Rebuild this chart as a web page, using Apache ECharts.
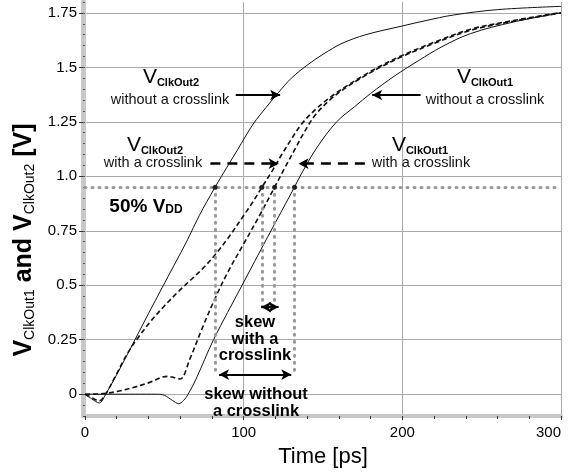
<!DOCTYPE html>
<html>
<head>
<meta charset="utf-8">
<script src="https://cdn.jsdelivr.net/npm/echarts@6/dist/echarts.min.js"></script>
<style>
  html, body { margin: 0; padding: 0; background: #fff; }
  #chart { width: 568px; height: 473px; }
</style>
</head>
<body>
<div id="chart"></div>
<script>
// time in ps, voltage in V
const out2NoLinkT = [0, 4, 9, 13, 20, 31.5, 40, 48.7, 56, 64.7, 72, 82, 86, 96, 106, 114, 122, 130, 140, 150, 162, 177, 200, 215, 232, 260, 300];
const out2NoLinkV = [0, -0.02, -0.04, 0, 0.09, 0.25, 0.37, 0.49, 0.59, 0.71, 0.82, 0.95, 1.0, 1.12, 1.24, 1.315, 1.385, 1.45, 1.51, 1.56, 1.61, 1.65, 1.69, 1.715, 1.74, 1.765, 1.78];

const out2LinkT = [0, 4, 9, 13, 20, 27, 34, 42, 50, 58, 66, 74, 82, 90, 100, 106, 111.5, 118, 124, 130, 136.5, 145, 155, 165, 175, 186, 200, 220, 243, 270, 300];
const out2LinkV = [0, -0.015, -0.03, 0, 0.095, 0.19, 0.265, 0.34, 0.405, 0.465, 0.52, 0.575, 0.64, 0.715, 0.82, 0.885, 0.95, 1.025, 1.1, 1.17, 1.24, 1.305, 1.365, 1.415, 1.46, 1.505, 1.555, 1.615, 1.675, 1.715, 1.752];

const out1LinkT = [0, 10, 20, 30, 40, 52, 56, 60, 66, 74, 82, 90, 100, 110, 119.5, 126, 132, 138, 145, 155, 165, 175, 186, 200, 220, 243, 270, 300];
const out1LinkV = [0, 0.002, 0.012, 0.03, 0.052, 0.082, 0.077, 0.07, 0.16, 0.305, 0.44, 0.56, 0.69, 0.82, 0.95, 1.04, 1.12, 1.2, 1.28, 1.355, 1.41, 1.455, 1.5, 1.55, 1.61, 1.67, 1.712, 1.75];

const out1NoLinkT = [0, 45, 50, 55, 59, 62, 65, 70, 81, 99, 115, 132, 135.5, 146, 158.6, 170, 180, 195, 210, 225, 243, 270, 300];
const out1NoLinkV = [0, 0, -0.005, -0.028, -0.043, -0.03, 0, 0.07, 0.25, 0.5, 0.72, 0.95, 1.0, 1.13, 1.25, 1.32, 1.38, 1.46, 1.53, 1.595, 1.655, 1.708, 1.75];

const yTicks = [0, 0.25, 0.5, 0.75, 1, 1.25, 1.5, 1.75];
const vddHalf = 0.95;
const crossT = [82, 111.5, 119.5, 132];
const dropTo = [0.085, 0.4, 0.4, 0.085];

// annotation arrows [from, to] in data units
const solidArrows = [[[95, 1.373], [123, 1.373]], [[211.5, 1.373], [181, 1.373]]];
const dashedArrows = [[[79, 1.058], [122, 1.058]], [[176.4, 1.058], [134.6, 1.058]]];
const skewArrows = [[[111, 0.4], [122, 0.4]], [[84.5, 0.09], [130, 0.09]]];

const chart = echarts.init(document.getElementById('chart'));
const FONT = 'Liberation Sans, Arial, sans-serif';

function pairs(t, v) {
  return t.map((x, i) => [x, v[i]]);
}

function curve(name, t, v, dashed) {
  return {
    name: name,
    type: 'line',
    data: pairs(t, v),
    showSymbol: false,
    smooth: 0.35,
    silent: true,
    z: 4,
    lineStyle: {
      color: '#111',
      width: dashed ? 1.6 : 1,
      type: dashed ? [5, 3] : 'solid'
    }
  };
}

function arrowItem(a, style, both) {
  return [
    { coord: a[0], symbol: both ? 'arrow' : 'none', symbolSize: [8, 10], lineStyle: style },
    { coord: a[1], symbol: 'arrow', symbolSize: [8, 10], lineStyle: style }
  ];
}

const dotStyle = { color: '#999', width: 3, type: [1, 6], cap: 'round' };
const markData = [];
markData.push([
  { coord: [0, vddHalf], symbol: 'none', lineStyle: dotStyle },
  { coord: [300, vddHalf], symbol: 'none', lineStyle: dotStyle }
]);
crossT.forEach((t, i) => {
  markData.push([
    { coord: [t, vddHalf], symbol: 'none', lineStyle: dotStyle },
    { coord: [t, dropTo[i]], symbol: 'none', lineStyle: dotStyle }
  ]);
});
solidArrows.forEach(a => markData.push(arrowItem(a, { color: '#000', width: 2, type: 'solid' }, false)));
dashedArrows.forEach(a => markData.push(arrowItem(a, { color: '#000', width: 2.5, type: [10, 7] }, false)));
skewArrows.forEach(a => markData.push(arrowItem(a, { color: '#000', width: 2, type: 'solid' }, true)));

const series = [
  curve('VClkOut2 without a crosslink', out2NoLinkT, out2NoLinkV, false),
  curve('VClkOut2 with a crosslink', out2LinkT, out2LinkV, true),
  curve('VClkOut1 with a crosslink', out1LinkT, out1LinkV, true),
  curve('VClkOut1 without a crosslink', out1NoLinkT, out1NoLinkV, false),
  {
    type: 'scatter',
    data: crossT.map(t => [t, vddHalf]),
    symbolSize: 5,
    itemStyle: { color: '#000' },
    silent: true,
    z: 6,
    markLine: {
      silent: true,
      animation: false,
      label: { show: false },
      data: markData
    }
  }
];

// rich text styles for V with subscript
const vRich = {
  v: { fontSize: 21, fontFamily: FONT, lineHeight: 22, verticalAlign: 'bottom', fill: '#000', color: '#000' },
  s: { fontSize: 11, fontFamily: FONT, fontWeight: 'bold', lineHeight: 6, verticalAlign: 'bottom', fill: '#000', color: '#000' }
};

function vLabel(x, y, sub) {
  return {
    type: 'text', x: x, y: y, z: 10,
    style: {
      text: '{v|V}{s|' + sub + '}',
      rich: vRich,
      align: 'center', verticalAlign: 'middle'
    }
  };
}
function descLabel(x, y, txt) {
  return {
    type: 'text', x: x, y: y, z: 10,
    style: {
      text: txt, fill: '#111',
      font: '14.5px ' + FONT,
      align: 'center', verticalAlign: 'middle'
    }
  };
}

const graphics = [
  vLabel(171, 77, 'ClkOut2'), descLabel(170, 100, 'without a crosslink'),
  vLabel(485, 77, 'ClkOut1'), descLabel(485, 100, 'without a crosslink'),
  vLabel(155, 145, 'ClkOut2'), descLabel(153, 163, 'with a crosslink'),
  vLabel(420, 145, 'ClkOut1'), descLabel(421, 163, 'with a crosslink'),
  {
    type: 'text', x: 146, y: 206, z: 10,
    style: {
      text: '{b|50% V}{s|DD}',
      rich: {
        b: { fontSize: 19, fontWeight: 'bold', fontFamily: FONT, lineHeight: 20, verticalAlign: 'bottom', fill: '#000', color: '#000' },
        s: { fontSize: 12, fontWeight: 'bold', fontFamily: FONT, lineHeight: 6, verticalAlign: 'bottom', fill: '#000', color: '#000' }
      },
      align: 'center', verticalAlign: 'middle'
    }
  },
  {
    type: 'text', x: 255, y: 339, z: 10,
    style: {
      text: 'skew\nwith a\ncrosslink', fill: '#000',
      font: 'bold 16.5px ' + FONT, lineHeight: 16.5,
      align: 'center', verticalAlign: 'middle'
    }
  },
  {
    type: 'text', x: 256, y: 403, z: 10,
    style: {
      text: 'skew without\na crosslink', fill: '#000',
      font: 'bold 16.5px ' + FONT, lineHeight: 17,
      align: 'center', verticalAlign: 'middle'
    }
  },
  {
    type: 'text', x: 24, y: 240, rotation: Math.PI / 2, z: 10,
    style: {
      text: '{v|V}{s|ClkOut1}{v| and V}{s|ClkOut2}{v| [V]}',
      rich: {
        v: { fontSize: 25, fontWeight: 'bold', fontFamily: FONT, lineHeight: 26, verticalAlign: 'bottom', fill: '#000', color: '#000' },
        s: { fontSize: 14, fontFamily: FONT, lineHeight: 8, verticalAlign: 'bottom', fill: '#000', color: '#000' }
      },
      align: 'center', verticalAlign: 'middle'
    }
  }
];

const option = {
  animation: false,
  backgroundColor: '#fff',
  grid: { left: 85, right: 7, top: 2, bottom: 50, containLabel: false },
  xAxis: {
    type: 'value',
    min: 0, max: 300, interval: 100,
    name: 'Time [ps]',
    nameLocation: 'middle',
    nameGap: 30,
    nameTextStyle: { fontSize: 22, color: '#000', fontFamily: FONT },
    axisLine: { show: true, onZero: false, lineStyle: { color: '#c8c8c8', width: 4 } },
    axisTick: { show: true, length: 4, lineStyle: { color: '#333' } },
    minorTick: { show: true, splitNumber: 5, length: 3, lineStyle: { color: '#333' } },
    axisLabel: { fontSize: 15, color: '#000', fontFamily: FONT, margin: 9, alignMaxLabel: 'right' },
    splitLine: { show: true, lineStyle: { color: '#aaa', width: 1 } }
  },
  yAxis: [
    {
      type: 'value',
      min: -0.1, max: 1.8,
      offset: 2,
      axisLine: { show: true, onZero: false, lineStyle: { color: '#c8c8c8', width: 5 } },
      axisTick: { show: true, customValues: yTicks, length: 4, lineStyle: { color: '#333' } },
      axisLabel: {
        customValues: yTicks,
        fontSize: 15, color: '#000', fontFamily: FONT, margin: 6,
        formatter: v => (v === 1 ? '1.0' : String(v))
      },
      splitLine: { show: true, lineStyle: { color: '#aaa', width: 1 } }
    },
    {
      type: 'value',
      min: -0.1, max: 1.8, interval: 0.05,
      position: 'left',
      offset: 2,
      axisLine: { show: false },
      axisTick: { show: true, length: 2, lineStyle: { color: '#555' } },
      axisLabel: { show: false },
      splitLine: { show: false }
    }
  ],
  series: series,
  graphic: graphics
};

chart.setOption(option);
</script>
</body>
</html>
